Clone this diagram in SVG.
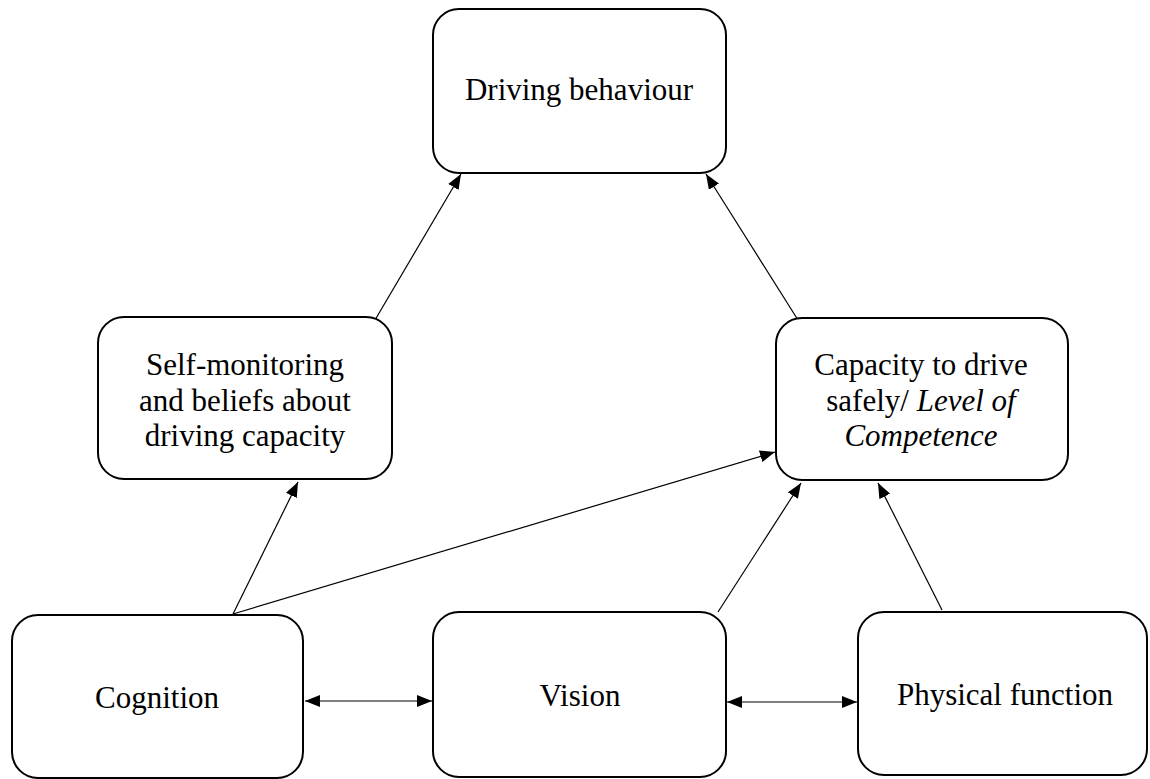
<svg xmlns="http://www.w3.org/2000/svg" width="1150" height="779" viewBox="0 0 1150 779">
<style>
.box{fill:#fff;stroke:#000;stroke-width:2}
.t{font-size:31px;fill:#000;text-anchor:middle}
.i{font-style:italic}
.c{stroke:#000;stroke-width:1.2;fill:none}
</style>
<defs>
<marker id="ah" viewBox="0 0 15 12" refX="15" refY="6" markerWidth="15" markerHeight="12" markerUnits="userSpaceOnUse" orient="auto-start-reverse">
<path d="M0,0 L15,6 L0,12 Z" fill="#000"/>
</marker>
</defs>
<rect width="1150" height="779" fill="#fff"/>
<g id="connectors">
<line class="c" x1="375" y1="320" x2="461" y2="174" marker-end="url(#ah)"/>
<line class="c" x1="798" y1="320" x2="706" y2="174" marker-end="url(#ah)"/>
<line class="c" x1="233" y1="614" x2="298" y2="482" marker-end="url(#ah)"/>
<line class="c" x1="233" y1="614" x2="775" y2="452" marker-end="url(#ah)"/>
<line class="c" x1="718" y1="612" x2="801" y2="483" marker-end="url(#ah)"/>
<line class="c" x1="942" y1="610" x2="878" y2="483" marker-end="url(#ah)"/>
<line class="c" x1="305" y1="701" x2="432" y2="701" marker-start="url(#ah)" marker-end="url(#ah)"/>
<line class="c" x1="727" y1="702" x2="857" y2="702" marker-start="url(#ah)" marker-end="url(#ah)"/>
</g>
<g font-family="Liberation Serif, Times New Roman, serif">
<g id="driving">
<rect class="box" x="433" y="9" width="293" height="164" rx="26"/>
<text class="t" x="579" y="100">Driving behaviour</text>
</g>
<g id="selfmon">
<rect class="box" x="98" y="317" width="294" height="162" rx="26"/>
<text class="t" x="245" y="375">Self-monitoring</text>
<text class="t" x="245" y="411">and beliefs about</text>
<text class="t" x="245" y="446">driving capacity</text>
</g>
<g id="capacity">
<rect class="box" x="776" y="318" width="292" height="162" rx="26"/>
<text class="t" x="921" y="375">Capacity to drive</text>
<text class="t" x="921" y="411">safely/ <tspan class="i">Level of</tspan></text>
<text class="t i" x="921" y="446">Competence</text>
</g>
<g id="cognition">
<rect class="box" x="12" y="615" width="291" height="163" rx="26"/>
<text class="t" x="157" y="708">Cognition</text>
</g>
<g id="vision">
<rect class="box" x="433" y="612" width="293" height="165" rx="26"/>
<text class="t" x="580" y="706">Vision</text>
</g>
<g id="physical">
<rect class="box" x="858" y="612" width="289" height="163" rx="26"/>
<text class="t" x="1005" y="705">Physical function</text>
</g>
</g>
</svg>
